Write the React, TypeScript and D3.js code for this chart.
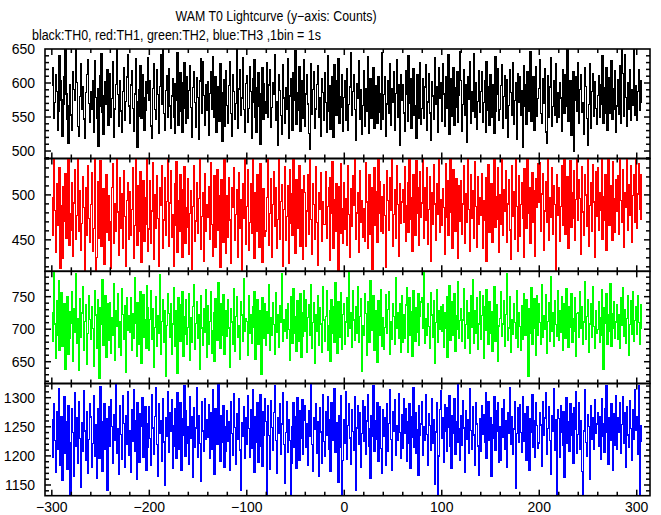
import React from 'react';
import * as d3 from 'd3';

// Counts per 1 s bin, t = -300 ... 305
const th0 = [
596,623,548,571,612,587,530,559,640,603,575,522,568,609,651,584,547,512,566,598,
553,530,617,590,574,652,601,536,521,580,628,562,595,547,519,586,612,635,570,542,
588,561,604,527,633,579,548,592,507,566,611,643,557,525,581,602,569,620,538,591,
614,549,577,631,520,562,598,658,583,536,604,559,527,588,622,545,573,609,641,566,
540,597,618,563,529,584,636,572,505,551,590,626,548,613,578,531,560,602,585,638,
575,604,537,518,592,628,561,547,619,583,526,595,642,568,662,555,531,589,611,549,
621,566,533,581,607,550,526,599,574,645,538,586,615,559,527,601,630,563,541,609,
548,589,626,564,520,593,616,571,535,608,579,517,603,636,556,631,582,538,597,560,
602,523,585,617,561,639,549,575,610,528,594,567,543,629,586,514,572,605,536,618,
567,540,596,632,555,522,613,587,546,570,655,534,591,620,553,578,637,561,528,599,
611,542,563,624,588,519,606,571,634,550,527,593,615,566,510,584,622,547,599,573,
556,630,549,597,619,535,564,601,583,642,545,572,508,612,589,552,525,627,578,541,
593,562,636,518,581,607,547,531,615,574,648,539,586,560,624,529,571,603,548,634,
537,584,613,569,526,503,629,554,590,617,533,562,598,625,550,578,521,607,586,545,
615,571,527,640,558,596,532,583,609,520,627,566,552,603,636,541,580,564,612,529,
579,603,545,621,530,568,594,644,552,587,613,561,516,599,577,633,546,590,524,567,
618,537,592,558,639,526,581,606,548,567,623,533,596,574,541,609,585,557,532,645,
546,583,610,521,569,604,555,628,538,591,572,616,530,585,634,549,597,509,613,575,
598,556,529,618,584,543,640,570,607,534,578,621,552,566,519,612,590,548,630,539,
563,607,548,594,627,531,572,614,556,515,602,581,546,637,569,595,528,623,578,601,
544,629,584,536,610,563,591,641,525,577,606,551,622,538,593,564,617,542,582,646,
604,529,568,619,552,597,513,610,576,631,540,587,558,643,549,601,532,573,618,557,
587,616,542,571,603,527,632,560,594,538,612,569,549,598,526,639,558,584,621,545,
561,596,627,533,580,611,548,605,520,567,619,586,553,630,539,574,600,517,614,572,
609,552,589,506,625,566,598,539,617,558,583,646,543,572,610,530,591,624,551,577,
592,634,555,541,606,570,621,528,512,611,550,594,637,536,565,604,553,628,542,586,
549,600,578,529,620,589,555,612,566,656,544,571,603,523,596,616,500,575,609,558,
630,540,590,613,557,571,525,622,595,548,508,568,628,534,587,614,551,602,563,539,
582,611,550,597,569,640,541,593,556,623,530,573,608,555,633,546,592,562,618,527,
566,605,554,626,541,653,614,551,642,579,536,600,561,619,545,590,567,652,553,596,
545,587,620,560,604,571
];

const th1 = [
497,455,541,483,436,512,466,503,530,418,488,429,509,471,524,452,494,539,444,479,
461,514,432,491,528,450,477,545,459,505,438,468,520,486,416,508,455,532,474,447,
489,525,437,463,543,416,430,515,452,496,538,443,470,507,423,485,522,458,499,449,
470,418,508,535,446,490,460,548,481,433,519,463,501,440,527,476,421,494,514,451,
504,455,484,530,429,466,541,495,444,510,460,526,425,479,516,448,497,467,549,437,
462,516,446,482,536,428,500,463,521,474,420,508,488,532,441,472,519,455,493,544,
443,491,527,453,478,421,512,466,537,436,494,459,523,482,430,506,531,446,486,464,
518,434,479,505,417,487,533,448,471,514,457,496,546,439,476,502,426,524,460,489,
475,509,450,536,467,432,491,521,442,484,528,461,499,419,517,469,447,541,481,435,
499,453,519,472,424,508,486,530,449,478,506,431,525,463,495,414,513,474,547,445,
487,528,438,469,512,457,542,480,429,503,460,522,491,442,535,467,425,507,483,454,
460,497,546,444,479,518,431,489,526,465,508,440,473,539,450,493,511,420,484,531,
449,476,510,424,528,468,501,455,544,487,435,517,463,494,533,443,477,506,428,521,
503,443,482,522,456,540,473,434,512,489,450,531,469,422,502,484,525,448,492,467,
467,526,452,487,508,427,519,479,537,441,495,460,512,474,416,509,457,535,485,446,
514,462,496,444,532,478,430,507,465,521,488,548,451,480,502,436,527,470,494,453,
485,448,536,492,440,474,523,456,508,417,491,530,466,504,447,543,479,515,459,498,
457,511,477,419,527,494,461,519,483,542,443,478,506,452,533,489,432,513,468,492,
506,469,531,448,488,514,458,550,473,497,437,522,487,455,538,480,508,444,526,475,
491,543,452,508,472,530,445,484,520,426,503,467,534,490,449,513,478,547,458,495,
466,507,486,434,535,475,516,455,498,541,481,440,528,492,459,518,485,429,510,471,
516,456,490,532,446,501,470,549,484,437,523,474,505,452,537,487,442,520,467,497,
477,524,441,494,472,519,426,503,534,458,489,513,447,483,545,464,498,473,530,436,
500,467,542,455,506,482,527,447,490,517,461,428,533,476,504,451,541,487,437,521,
454,489,514,474,431,529,495,463,548,480,508,446,493,525,469,505,432,518,486,535,
492,536,460,501,524,438,482,515,470,544,449,497,475,530,456,510,489,414,523,477,
508,448,487,533,466,496,550,456,491,520,441,484,538,464,503,474,527,449,495,541,
472,517,496,434,531,481,455,522,500,465,545,443,488,514,460,534,492,430,526,476,
530,461,503,483,541,450,498,472,523,438,491,550,466,510,486,449,537,496,458,517,
482,521,456,540,494,469,528,442,502,486,547,461,511,477,532,447,499,523,470,546,
463,501,535,484,522,473
];

const th2 = [
726,681,792,708,655,744,690,775,668,721,756,673,710,739,638,702,750,661,727,686,
709,758,651,731,695,786,678,716,637,747,688,725,765,667,712,738,646,693,752,715,
684,734,701,643,760,722,670,745,692,625,733,707,776,675,718,751,657,697,740,683,
741,663,717,690,770,652,729,704,754,672,711,660,763,723,685,736,634,748,698,721,
695,749,668,724,686,780,709,659,741,700,676,758,647,727,753,688,714,671,767,733,
667,715,759,684,732,641,703,750,674,721,694,784,661,712,746,680,729,628,706,755,
724,687,740,662,708,764,673,728,696,632,749,711,681,737,757,658,719,692,745,677,
703,754,652,718,680,735,768,669,709,743,686,723,639,751,702,675,731,695,761,656,
736,676,712,757,663,697,726,650,747,708,683,771,716,671,739,690,753,661,710,728,
689,745,702,641,731,711,677,763,666,719,750,687,705,654,742,722,681,777,697,716,
712,660,752,693,723,678,734,703,758,653,696,746,677,728,713,630,748,707,686,739,
675,727,694,769,667,717,690,741,707,661,756,695,722,672,736,710,785,681,715,696,
730,686,739,700,652,750,713,678,762,693,720,666,744,704,681,754,657,726,689,759,
697,746,664,718,737,691,768,671,710,741,647,722,696,751,675,733,708,665,766,714,
682,720,760,668,705,729,650,745,693,734,680,772,709,663,743,717,687,756,669,723,
740,677,711,749,689,788,701,726,672,759,714,683,735,694,765,679,719,747,635,706,
691,755,724,660,742,707,679,774,698,722,751,667,728,703,649,744,711,690,761,674,
718,669,703,753,693,730,757,662,711,684,739,719,677,779,701,725,686,740,664,751,
679,722,686,737,764,665,712,748,690,727,658,759,707,681,733,695,754,675,720,742,
749,701,792,678,716,690,740,704,670,756,722,688,744,648,710,761,680,728,699,735,
696,738,672,726,702,750,656,717,767,683,709,742,691,755,666,721,700,773,686,713,
731,681,714,763,671,707,744,686,725,663,752,703,776,678,729,694,748,669,708,758,
685,721,752,655,735,698,761,710,676,743,693,727,666,708,766,682,717,737,651,705,
716,758,689,708,744,673,723,786,683,702,750,664,715,692,739,710,686,760,672,725,
704,668,736,684,755,717,690,746,707,628,732,694,764,677,718,747,701,660,752,691,
739,710,676,769,687,721,699,753,663,712,741,682,781,696,726,673,744,707,689,760,
683,729,695,750,667,709,740,686,762,719,672,735,703,754,679,716,697,749,658,724,
726,688,757,701,734,676,711,773,684,720,746,665,708,740,687,765,704,671,729,693,
700,743,680,717,761,690,638,733,709,755,677,722,696,770,673,724,702,742,686,711,
737,684,723,671,748,706,764,689,730,678,716,752,660,707,744,692,758,681,713,734,
692,751,710,676,738,702
];

const th3 = [
1262,1198,1290,1227,1171,1276,1211,1316,1244,1183,1268,1158,1236,1301,1205,1259,1177,1287,1222,1128,
1135,1281,1240,1164,1308,1216,1265,1187,1293,1230,1146,1257,1208,1312,1243,1192,1276,1170,1228,1289,
1267,1180,1221,1304,1200,1253,1161,1281,1232,1196,1319,1258,1174,1241,1290,1212,1264,1140,1229,1284,
1216,1297,1251,1188,1271,1226,1322,1204,1247,1168,1286,1237,1194,1303,1256,1181,1270,1219,1310,1201,
1243,1172,1279,1225,1314,1207,1260,1159,1292,1234,1189,1273,1250,1300,1197,1239,1284,1176,1255,1214,
1285,1230,1184,1306,1248,1203,1268,1318,1220,1165,1289,1238,1261,1191,1298,1224,1150,1266,1233,1311,
1206,1274,1242,1296,1178,1252,1217,1282,1195,1309,1245,1211,1291,1175,1264,1236,1320,1199,1277,1222,
1250,1186,1302,1231,1267,1163,1283,1214,1248,1317,1197,1270,1221,1156,1294,1243,1207,1299,1228,1262,
1232,1288,1195,1275,1212,1313,1237,1169,1282,1253,1219,1323,1246,1190,1269,1223,1287,1180,1251,1208,
1277,1225,1259,1176,1293,1238,1201,1307,1249,1185,1273,1229,1298,1210,1140,1257,1234,1285,1196,1266,
1220,1303,1247,1198,1280,1213,1314,1240,1171,1268,1224,1292,1189,1254,1306,1217,1182,1276,1236,1299,
1259,1130,1286,1235,1177,1295,1249,1209,1274,1321,1226,1170,1265,1238,1289,1203,1255,1309,1219,1152,
1240,1294,1206,1263,1227,1131,1188,1251,1292,1215,1268,1179,1300,1244,1193,1278,1230,1297,1202,1261,
1287,1214,1256,1183,1277,1234,1325,1219,1174,1266,1245,1290,1205,1259,1164,1283,1241,1188,1305,1225,
1199,1276,1236,1301,1212,1262,1173,1291,1249,1227,1316,1206,1257,1237,1155,1270,1215,1304,1129,1192,
1263,1222,1310,1194,1252,1289,1231,1185,1279,1242,1209,1302,1141,1248,1286,1220,1274,1180,1239,1295,
1225,1284,1203,1260,1306,1216,1246,1162,1270,1234,1321,1207,1261,1229,1292,1190,1250,1285,1213,1170,
1279,1233,1266,1184,1290,1208,1256,1313,1228,1175,1276,1243,1296,1201,1252,1226,1307,1240,1196,1271,
1213,1299,1239,1282,1190,1258,1222,1289,1178,1267,1232,1318,1215,1274,1205,1245,1166,1286,1235,1255,
1293,1201,1250,1226,1306,1237,1183,1273,1252,1210,1299,1221,1263,1151,1241,1291,1133,1200,1280,1312,
1231,1266,1189,1288,1242,1207,1283,1249,1304,1216,1178,1270,1238,1298,1203,1259,1224,1322,1246,1193,
1270,1218,1295,1248,1172,1278,1229,1262,1204,1315,1244,1211,1284,1236,1184,1292,1255,1217,1167,1264,
1207,1287,1237,1271,1223,1309,1195,1246,1293,1227,1266,1165,1253,1231,1301,1210,1278,1242,1291,1189,
1251,1193,1281,1232,1297,1211,1260,1181,1274,1238,1318,1219,1267,1202,1246,1294,1145,1239,1283,1224,
1288,1240,1206,1302,1248,1225,1272,1192,1285,1234,1175,1264,1241,1305,1214,1261,1197,1292,1252,1213,
1222,1275,1253,1182,1294,1236,1265,1308,1203,1247,1284,1227,1168,1270,1242,1316,1209,1263,1130,1279,
1264,1198,1287,1240,1218,1276,1163,1251,1300,1221,1258,1208,1290,1235,1272,1187,1283,1245,1311,1204,
1237,1292,1212,1260,1173,1132,1243,1314,1223,1199,1271,1250,1160,1286,1229,1265,1211,1297,1238,1255,
1275,1216,1268,1194,1299,1233,1256,1206,1282,1320,1241,1185,1266,1226,1289,1248,1176,1273,1218,1303,
1212,1265,1240,1292,1204,1254,1302,1221,1274,1180,1285,1236,1215,1295,1247,1193,1279,1229,1314,1244,
1268,1203,1320,1130,1225,1252
];

const tStart = -300;
const binWidth = 1;
const xTickValues = [-300, -200, -100, 0, 100, 200, 300];
const titleText = 'WAM T0 Lightcurve (y\u2212axis: Counts)';
const subtitleText = 'black:TH0, red:TH1, green:TH2, blue:TH3 ,1bin = 1s';

const series = [
  { name: 'TH0', values: th0, color: '#000000', range: [489, 650], labels: [500, 550, 600, 650] },
  { name: 'TH1', values: th1, color: '#ff0000', range: [415, 540.5], labels: [450, 500] },
  { name: 'TH2', values: th2, color: '#00ff00', range: [616.5, 789], labels: [650, 700, 750] },
  { name: 'TH3', values: th3, color: '#0000ff', range: [1131.6, 1324.4], labels: [1150, 1200, 1250, 1300] },
];

const W = 661;
const H = 515;
const left = 45;
const right = 650;
const bounds = [49, 158.5, 271.3, 383.5, 495.7];
const font = '"Liberation Sans", Arial, Helvetica, sans-serif';

export default function App() {
  const x = d3.scaleLinear().domain([-307, 313.6]).range([left, right]);
  const xMinor = d3.range(-300, 314, 20);

  return (
    <svg width={W} height={H} style={{ position: 'absolute', left: 0, top: 0, background: '#fff' }}
      xmlns="http://www.w3.org/2000/svg">
      <rect x={0} y={0} width={W} height={H} fill="#fff" />
      <defs>
        {series.map((s, i) => (
          <clipPath id={`clip${i}`} key={i}>
            <rect x={left} y={bounds[i]} width={right - left} height={bounds[i + 1] - bounds[i]} />
          </clipPath>
        ))}
      </defs>
      <text x={276} y={21} fontFamily={font} fontSize={14} textAnchor="middle"
        textLength={201} lengthAdjust="spacingAndGlyphs">{titleText}</text>
      <text x={32} y={40} fontFamily={font} fontSize={14}
        textLength={289} lengthAdjust="spacingAndGlyphs">{subtitleText}</text>
      {series.map((s, i) => {
        const top = bounds[i];
        const bottom = bounds[i + 1];
        const y = d3.scaleLinear().domain(s.range).range([bottom, top]);
        const pts = s.values.map((v, k) => [tStart + k * binWidth, v] as [number, number]);
        const line = d3.line<[number, number]>()
          .x(d => x(d[0]))
          .y(d => y(d[1]))
          .curve(d3.curveStep);
        const yMinor = d3.range(Math.ceil(s.range[0] / 10) * 10, s.range[1], 10);
        return (
          <g key={s.name}>
            <path d={line(pts) || ''} fill="none" stroke={s.color} strokeWidth={1.3}
              shapeRendering="crispEdges" clipPath={`url(#clip${i})`} />
            <rect x={left} y={top} width={right - left} height={bottom - top}
              fill="none" stroke="#000" strokeWidth={1.6} />
            {xMinor.map(t => {
              const len = t % 100 === 0 ? 6 : 4;
              return (
                <g key={'xt' + t}>
                  <line x1={x(t)} x2={x(t)} y1={top} y2={top + len} stroke="#000" strokeWidth={1.5} />
                  <line x1={x(t)} x2={x(t)} y1={bottom} y2={bottom - len} stroke="#000" strokeWidth={1.5} />
                </g>
              );
            })}
            {yMinor.map(v => {
              const len = v % 50 === 0 ? 6 : 4;
              return (
                <g key={'yt' + v}>
                  <line x1={left} x2={left + len} y1={y(v)} y2={y(v)} stroke="#000" strokeWidth={1.5} />
                  <line x1={right} x2={right - len} y1={y(v)} y2={y(v)} stroke="#000" strokeWidth={1.5} />
                </g>
              );
            })}
            {s.labels.map(v => (
              <text key={'yl' + v} x={35} y={y(v)} dy="0.36em" fontFamily={font} fontSize={14}
                textAnchor="end">{v}</text>
            ))}
          </g>
        );
      })}
      {xTickValues.map(t => (
        <text key={'xl' + t} x={x(t)} y={512} fontFamily={font} fontSize={14} textAnchor="middle">
          {t < 0 ? '\u2212' + Math.abs(t) : String(t)}
        </text>
      ))}
    </svg>
  );
}
